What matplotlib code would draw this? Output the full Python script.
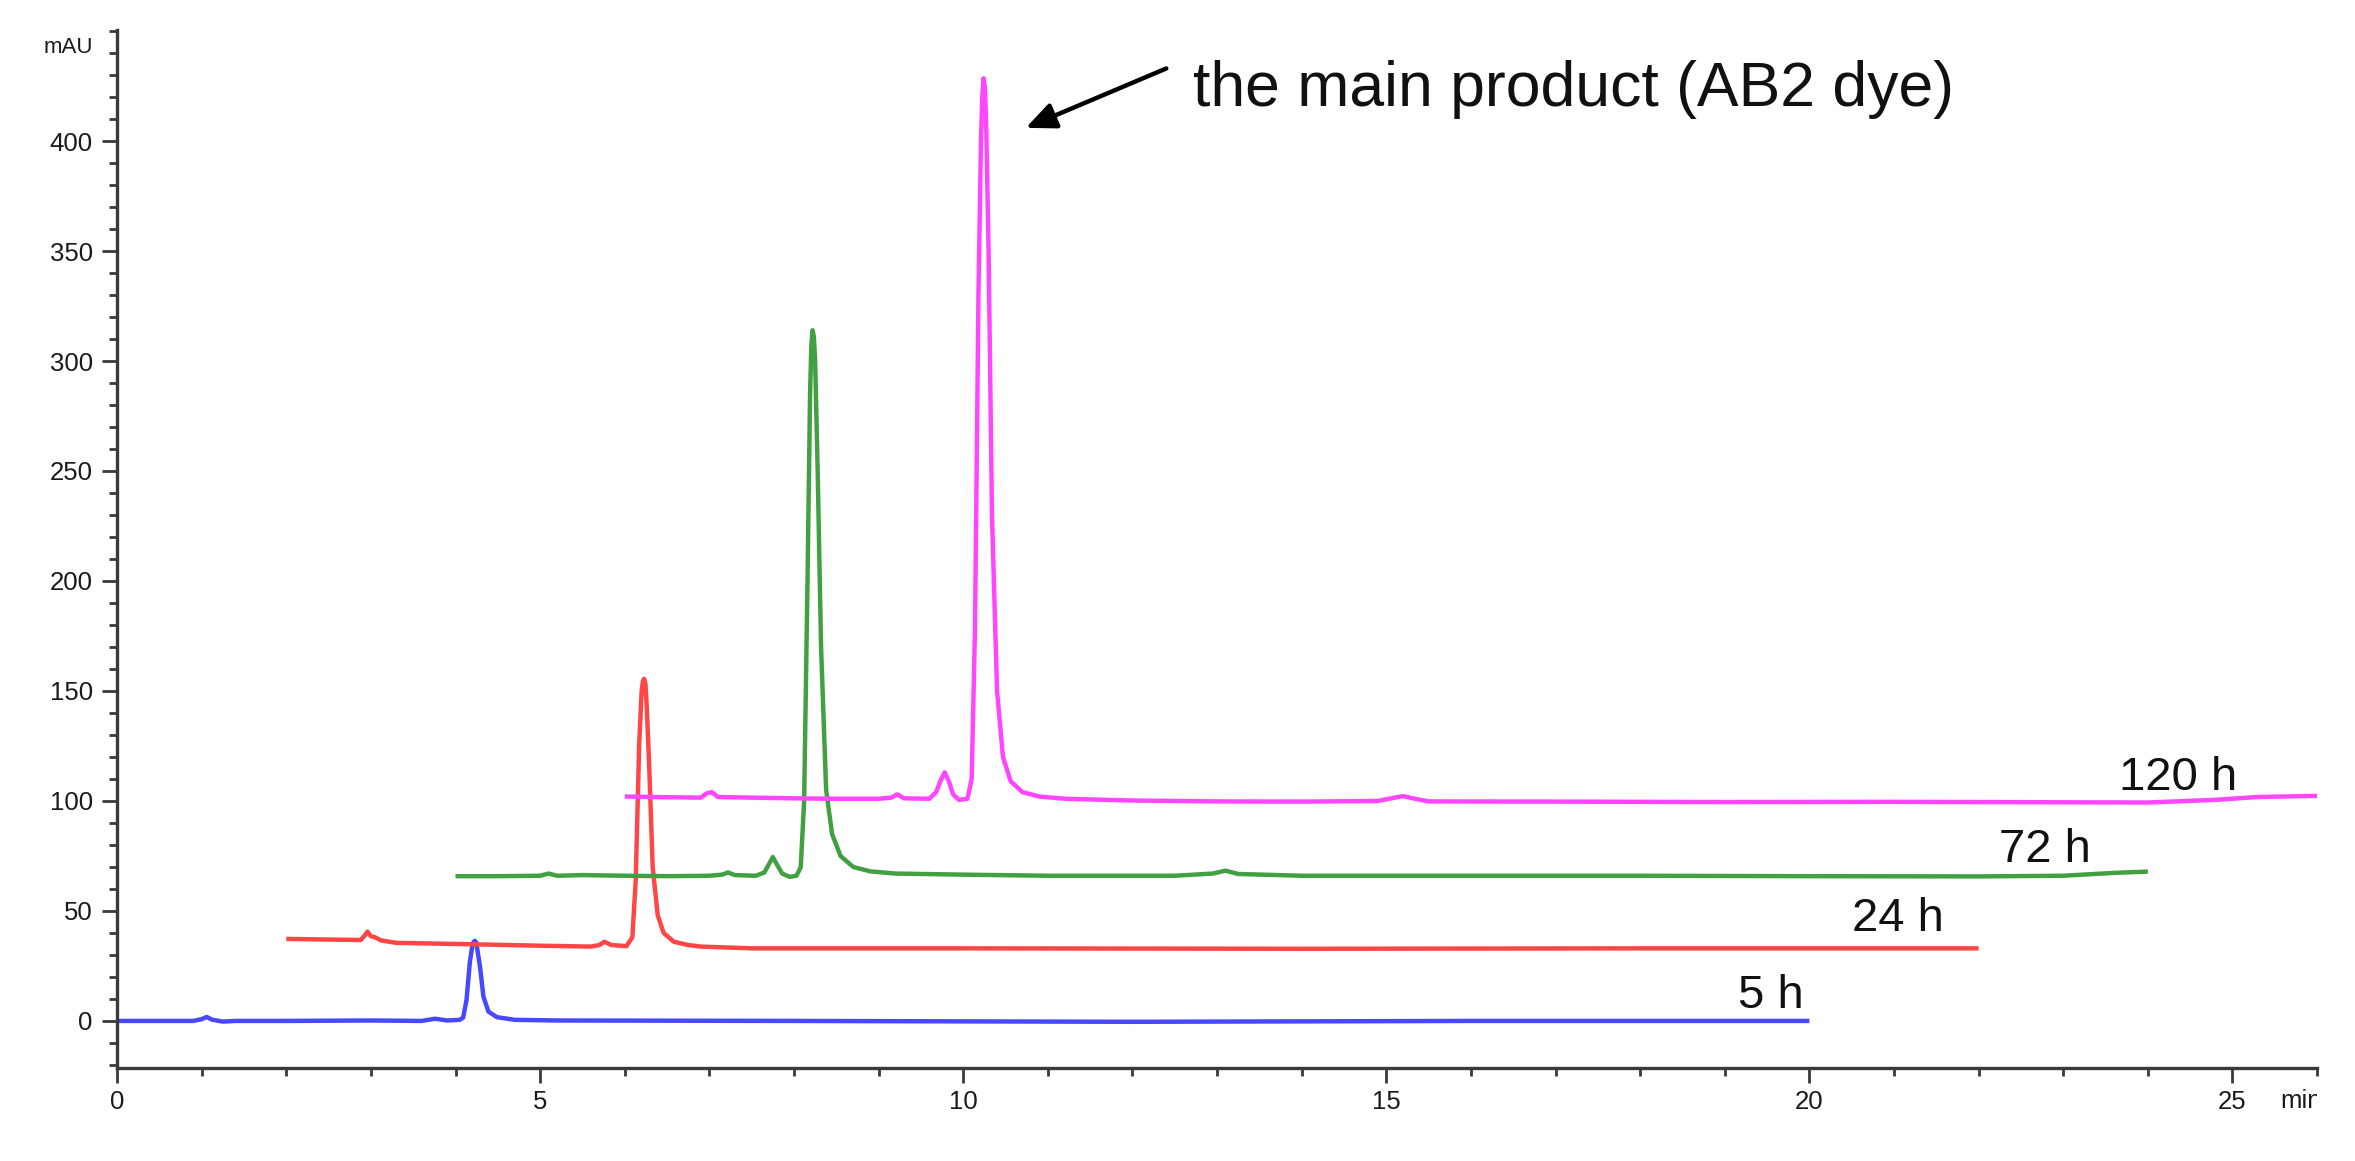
import matplotlib
matplotlib.use("Agg")
import matplotlib.pyplot as plt
from matplotlib.ticker import MultipleLocator
from matplotlib.transforms import Bbox, TransformedBbox

plt.rcParams['font.family'] = ['Liberation Sans', 'DejaVu Sans']

# ---- data ----
t_5h = [0, 0.9, 1.0, 1.06, 1.12, 1.25, 1.4, 2.0, 3.0, 3.6, 3.76, 3.9,
        4.05, 4.09, 4.13, 4.17, 4.20, 4.215, 4.23, 4.245, 4.26, 4.29, 4.33, 4.39, 4.49, 4.7,
        5.2, 8, 12, 16, 20]
y_5h = [0, 0, 0.8, 1.8, 0.6, -0.3, 0, 0, 0.2, 0, 1.0, 0.2,
        0.5, 1.5, 9.5, 27, 34.5, 36.0, 36.4, 35.6, 32, 24.5, 11, 4.2, 1.7, 0.5,
        0.2, 0, -0.4, 0, 0]

t_24h = [2.0, 2.5, 2.88, 2.93, 2.96, 3.0, 3.05, 3.12, 3.3, 4.0, 5.0, 5.6,
         5.7, 5.76, 5.84, 6.02, 6.09, 6.13, 6.17, 6.20, 6.215, 6.23, 6.245, 6.26, 6.29, 6.33,
         6.39, 6.46, 6.58, 6.75, 6.9, 7.5, 10, 14, 18, 22]
y_24h = [37.3, 37, 36.8, 39, 40.6, 38.5, 38, 36.6, 35.5, 35, 34.2, 33.8,
         34.5, 36, 34.5, 34, 38, 64, 125, 150, 154.5, 155.5, 153, 143, 115, 70,
         48, 40, 36, 34.5, 33.8, 33, 33, 32.8, 33, 33]

t_72h = [4.0, 4.5, 5.0, 5.1, 5.2, 5.5, 6.0, 6.5, 7.0, 7.15, 7.22, 7.3,
         7.55, 7.65, 7.70, 7.75, 7.80, 7.86, 7.95, 8.03, 8.08, 8.12, 8.16, 8.19,
         8.205, 8.22, 8.235, 8.25, 8.28, 8.32, 8.38, 8.45, 8.55, 8.7, 8.9, 9.2, 10, 11,
         12.5, 12.95, 13.1, 13.25, 14, 16, 18, 20, 22, 23, 23.6, 24.0]
y_72h = [65.8, 65.8, 66, 67, 66, 66.3, 66, 65.8, 66, 66.5, 67.5, 66.3,
         66, 67.5, 71, 74.5, 71, 67, 65.5, 66, 70, 100, 200, 285,
         307, 314, 311, 300, 250, 170, 105, 85, 75, 70, 68, 67, 66.5, 66,
         66, 67, 68.3, 66.8, 66, 66, 66, 65.8, 65.7, 66, 67.3, 67.9]

t_120h = [6.0, 6.5, 6.9, 6.97, 7.03, 7.1, 7.5, 8.0, 8.5, 9.0, 9.15, 9.22,
          9.3, 9.6, 9.68, 9.73, 9.78, 9.83, 9.88, 9.95, 10.05, 10.10, 10.14, 10.18,
          10.21, 10.225, 10.24, 10.255, 10.27, 10.30, 10.34, 10.40, 10.47, 10.56, 10.7, 10.9, 11.2, 12,
          13, 14, 14.9, 15.1, 15.2, 15.3, 15.5, 17, 19, 21, 23, 24, 24.8, 25.3, 26.0]
y_120h = [102, 101.7, 101.5, 103.5, 104, 101.8, 101.5, 101.2, 101, 101, 101.5, 103,
          101.2, 101, 104, 109, 113, 109, 103, 100.5, 101, 110, 180, 330,
          400, 420, 428.5, 425, 410, 350, 230, 150, 120, 109, 104, 102, 101, 100.2,
          99.8, 99.7, 100, 101.5, 102.2, 101.3, 99.8, 99.7, 99.5, 99.6, 99.4, 99.3, 100.5, 101.8, 102.3]

series_t = [t_5h, t_24h, t_72h, t_120h]
series_y = [y_5h, y_24h, y_72h, y_120h]
series_names = ['5 h', '24 h', '72 h', '120 h']
series_colors = ['#4848ff', '#ff4646', '#42a042', '#ff46ff']
label_pos = [(19.54, 5.9), (21.05, 41.0), (22.78, 72.3), (24.36, 105.0)]

x_ticks = [0, 5, 10, 15, 20, 25]
y_ticks = [0, 50, 100, 150, 200, 250, 300, 350, 400]

annotation_text = 'the main product (AB2 dye)'

# ---- figure ----
fig = plt.figure(figsize=(23.55, 11.61), dpi=100)
ax = fig.add_axes([0.0497, 0.0801, 0.9342, 0.8941])

for t, y, c in zip(series_t, series_y, series_colors):
    ax.plot(t, y, color=c, lw=3.2, solid_joinstyle='round', solid_capstyle='butt')

for name, (lx, ly) in zip(series_names, label_pos):
    ax.text(lx, ly, name, ha='center', va='baseline', fontsize=34, color='#111111')

ax.set_xlim(0, 26)
ax.set_ylim(-21.4, 450.5)
ax.set_xticks(x_ticks)
ax.set_yticks(y_ticks)
ax.xaxis.set_minor_locator(MultipleLocator(1))
ax.yaxis.set_minor_locator(MultipleLocator(10))

for s in ['top', 'right']:
    ax.spines[s].set_visible(False)
for s in ['left', 'bottom']:
    ax.spines[s].set_linewidth(2.4)
    ax.spines[s].set_color('#3a3a3a')

ax.tick_params(axis='both', which='major', direction='out', length=10.5, width=2.0,
               color='#3a3a3a', labelsize=18.5, labelcolor='#1a1a1a')
ax.tick_params(axis='both', which='minor', direction='out', length=6.0, width=2.0,
               color='#3a3a3a')
ax.tick_params(axis='y', which='major', pad=7)
ax.tick_params(axis='x', which='major', pad=5)

# unit labels
ax.text(-0.28, 440, 'mAU', ha='right', va='baseline', fontsize=16, color='#1a1a1a')
tmin = ax.text(25.57, -39.5, 'min', ha='left', va='baseline', fontsize=18.5,
               color='#1a1a1a', clip_on=True)
tmin.set_clip_path(None)
tmin.set_clip_box(TransformedBbox(Bbox([[0, -1], [1, 1]]), ax.transAxes))

# annotation arrow + text
ax.annotate('', xy=(10.74, 406), xytext=(12.40, 433),
            arrowprops=dict(arrowstyle='-|>,head_length=0.45,head_width=0.2',
                            color='black', lw=3.2, mutation_scale=40,
                            shrinkA=0, shrinkB=0))
ax.text(12.71, 416, annotation_text, ha='left', va='baseline', fontsize=45, color='#111111')

fig.savefig('out.png', dpi=100, facecolor='white')
